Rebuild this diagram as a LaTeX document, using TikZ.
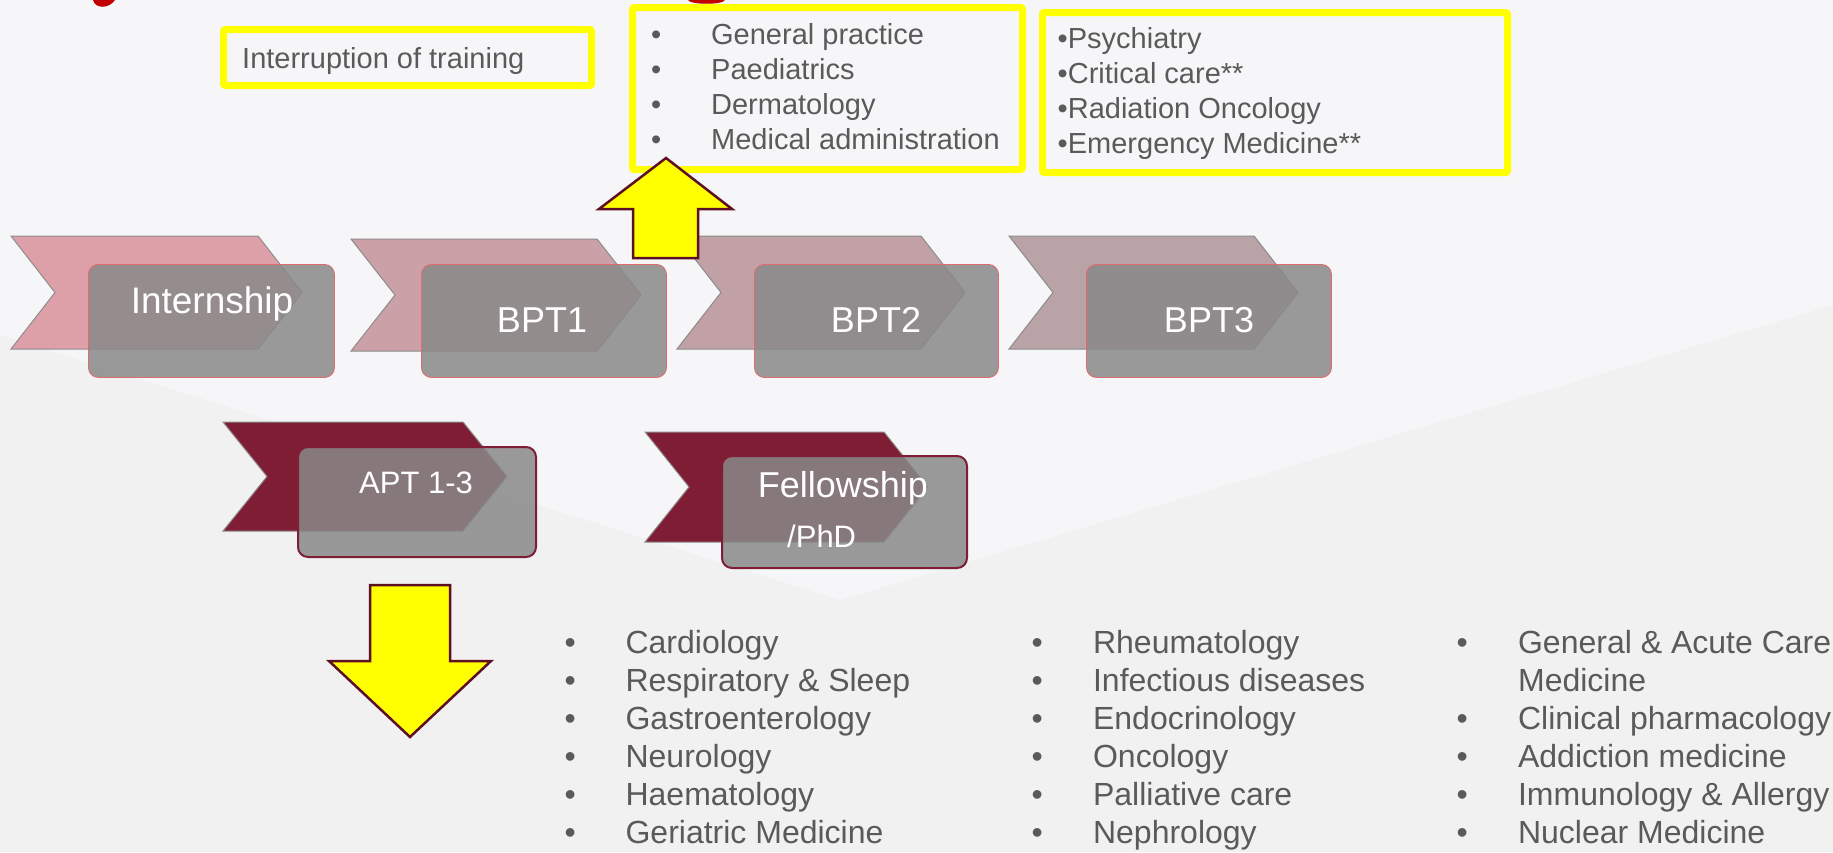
\documentclass[tikz,border=0pt]{standalone}
\usepackage{fontspec}
\setmainfont{Liberation Sans}
\usepackage{tikz}

\definecolor{bglow}{HTML}{F1F1F1}
\definecolor{bghigh}{HTML}{F6F6F8}
\definecolor{listgray}{HTML}{5A5A5A}
\definecolor{hlyellow}{HTML}{FFFF00}
\definecolor{maroon}{HTML}{7F1D35}
\definecolor{arrowedge}{HTML}{5E1023}
\definecolor{boxgray}{HTML}{898989}
\definecolor{boxred}{HTML}{E06A6E}
\definecolor{titlered}{HTML}{C00000}
\definecolor{pinkA}{HTML}{DEA0A8}
\definecolor{pinkB}{HTML}{CBA1A7}
\definecolor{pinkC}{HTML}{C1A1A5}
\definecolor{pinkD}{HTML}{BAA3A6}

% chevron: x, y of top left corner, body length, height, style
\newcommand{\chevronat}[5]{%
  \draw[#5] (#1,#2) -- ++(#3,0) -- ++(44,#4/2) -- ++(-44,#4/2) -- ++(-#3,0) -- ++(44,-#4/2) -- cycle;}

\begin{document}
\begin{tikzpicture}[x=1pt,y=-1pt,
  chev/.style={draw=gray!90,line width=1pt},
  stagebox/.style={draw=boxred,line width=0.9pt,fill=boxgray,fill opacity=0.85,rounded corners=10pt,
    anchor=north west,inner sep=0pt},
  advbox/.style={stagebox,draw=maroon,line width=2pt},
  stagelabel/.style={text=white,anchor=base,inner sep=0pt},
  hlbox/.style={draw=hlyellow,line width=7pt,rounded corners=2pt},
  listtext/.style={text=listgray,anchor=base west,inner sep=0pt},
  blockarrow/.style={fill=hlyellow,draw=arrowedge,line width=2.5pt}]
\useasboundingbox (0,0) rectangle (1833,852);
% background
\fill[bglow] (0,0) rectangle (1833,852);
\fill[bghigh] (0,0) -- (1833,0) -- (1833,305) -- (840,600) -- (0,335) -- cycle;
\fill[titlered] (93,0) .. controls (95,9) and (109,9) .. (115,0) -- cycle;
\fill[titlered] (688,0) .. controls (690,5) and (723,5) .. (725,0) -- cycle;

% yellow boxes at the top
\draw[hlbox] (223.5,29.5) rectangle (591.5,85.5);
\draw[hlbox] (632.5,7.5) rectangle (1022.5,169.5);
\draw[hlbox] (1042.5,12.5) rectangle (1507.5,172.5);
\node[listtext] (interrupt) at (242,68) {\fontsize{29}{35}\selectfont Interruption of training};
\node[listtext] (shortlist) at (651,44) {\fontsize{29}{35.3}\selectfont
  \begin{tabular}[t]{@{}p{60pt}@{}l@{}}
  • & General practice\\
  • & Paediatrics\\
  • & Dermatology\\
  • & Medical administration
  \end{tabular}};
\node[listtext] (starlist) at (1057.5,48) {\fontsize{29}{35.3}\selectfont
  \begin{tabular}[t]{@{}l@{}}
  •Psychiatry\\
  •Critical care**\\
  •Radiation Oncology\\
  •Emergency Medicine**
  \end{tabular}};

% basic training
\chevronat{11}{236}{247}{113}{chev,fill=pinkA}
\chevronat{351}{239}{246}{112}{chev,fill=pinkB}
\chevronat{677}{236}{244}{113}{chev,fill=pinkC}
\chevronat{1009}{236}{245}{113}{chev,fill=pinkD}
\node[stagebox,minimum width=246pt,minimum height=113pt] (intbox) at (88,264) {};
\node[stagebox,minimum width=245pt,minimum height=113pt] (bptonebox) at (421,264) {};
\node[stagebox,minimum width=244pt,minimum height=113pt] (bpttwobox) at (754,264) {};
\node[stagebox,minimum width=245pt,minimum height=113pt] (bptthreebox) at (1086,264) {};
\node[stagelabel] (internship) at (212,313) {\fontsize{37}{40}\selectfont Internship};
\node[stagelabel] (bptone) at (542,332) {\fontsize{36}{40}\selectfont BPT1};
\node[stagelabel] (bpttwo) at (876,332) {\fontsize{36}{40}\selectfont BPT2};
\node[stagelabel] (bptthree) at (1209,332) {\fontsize{36}{40}\selectfont BPT3};

% advanced training
\chevronat{223}{422}{240}{109}{chev,fill=maroon}
\chevronat{645}{432}{239}{110}{chev,fill=maroon}
\node[advbox,minimum width=238pt,minimum height=110pt] (aptbox) at (297,446) {};
\node[advbox,minimum width=245pt,minimum height=112pt] (fellowbox) at (721,455) {};
\node[stagelabel] (apt) at (416,493) {\fontsize{31}{35}\selectfont APT 1-3};
\node[stagelabel] (fellowship) at (843,497) {\fontsize{36}{40}\selectfont Fellowship};
\node[stagelabel,anchor=base west] (phd) at (787,547) {\fontsize{31}{35}\selectfont /PhD};

% block arrows
\draw[blockarrow] (698,258) -- (633,258) -- (633,209) -- (599,209) -- (666,158) -- (732,209) -- (698,209) -- cycle;
\draw[blockarrow] (370,585) -- (450,585) -- (450,661) -- (491,661) -- (410,737) -- (329,661) -- (370,661) -- cycle;

% specialties
\node[listtext] (physlistA) at (564.4,653) {\fontsize{32}{38}\selectfont
  \begin{tabular}[t]{@{}p{61pt}@{}l@{}}
  • & Cardiology\\
  • & Respiratory \& Sleep\\
  • & Gastroenterology\\
  • & Neurology\\
  • & Haematology\\
  • & Geriatric Medicine
  \end{tabular}};
\node[listtext] (physlistB) at (1031.4,653) {\fontsize{32}{38}\selectfont
  \begin{tabular}[t]{@{}p{61.5pt}@{}l@{}}
  • & Rheumatology\\
  • & Infectious diseases\\
  • & Endocrinology\\
  • & Oncology\\
  • & Palliative care\\
  • & Nephrology
  \end{tabular}};
\node[listtext] (physlistC) at (1456.4,653) {\fontsize{32}{38}\selectfont
  \begin{tabular}[t]{@{}p{61.5pt}@{}l@{}}
  • & General \& Acute Care\\
    & Medicine\\
  • & Clinical pharmacology\\
  • & Addiction medicine\\
  • & Immunology \& Allergy\\
  • & Nuclear Medicine
  \end{tabular}};
\end{tikzpicture}
\end{document}
